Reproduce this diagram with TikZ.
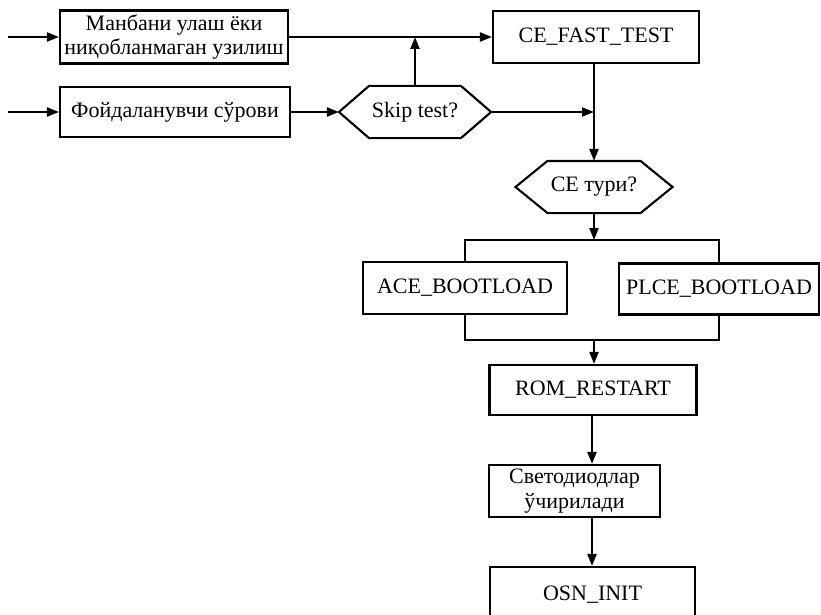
\documentclass[tikz,border=0pt]{standalone}
\usepackage{fontspec}
\setmainfont{Liberation Serif}
\usetikzlibrary{arrows.meta,calc}
\begin{document}
\begin{tikzpicture}[x=1pt,y=-1pt,
  line width=2.1pt,
  every node/.style={font=\fontsize{22}{24.5}\selectfont, inner sep=0pt, align=center},
  blk/.style={draw, rectangle},
  hexnode/.style={rectangle},
  arr/.style={-{Triangle[length=12pt,width=9pt]}}
]
\useasboundingbox (0,0) rectangle (821,615);
\clip (0,0) rectangle (821,615);

% process boxes
\node[blk, minimum width=228, minimum height=53] (src) at (174,37)
  {Манбани улаш ёки\\ниқобланмаган узилиш};
\node[blk, minimum width=230, minimum height=50] (req) at (175,112) {Фойдаланувчи сўрови};
\node[blk, minimum width=206, minimum height=52] (fast) at (596,37) {CE\_FAST\_TEST};
\node[blk, minimum width=204, minimum height=52] (ace) at (465,288) {ACE\_BOOTLOAD};
\node[blk, minimum width=200, minimum height=51] (plce) at (719,289) {PLCE\_BOOTLOAD};
\node[blk, minimum width=207, minimum height=50] (rom) at (593,390) {ROM\_RESTART};
\node[blk, minimum width=171, minimum height=52] (led) at (574.5,491)
  {Светодиодлар\\ўчирилади};
\node[blk, minimum width=205, minimum height=56] (osn) at (592.5,595) {OSN\_INIT};

% decision hexagons
\node[hexnode, minimum width=150, minimum height=50] (skip) at (415,112) {Skip test?};
\node[hexnode, minimum width=155, minimum height=50] (ce) at (594,187) {CE тури?};
\draw (skip.west) -- ($(skip.north west)+(30,0)$) -- ($(skip.north east)+(-30,0)$)
  -- (skip.east) -- ($(skip.south east)+(-30,0)$) -- ($(skip.south west)+(30,0)$) -- cycle;
\draw (ce.west) -- ($(ce.north west)+(32,0)$) -- ($(ce.north east)+(-32,0)$)
  -- (ce.east) -- ($(ce.south east)+(-32,0)$) -- ($(ce.south west)+(32,0)$) -- cycle;

% junction points
\coordinate (in1) at (8,37);
\coordinate (in2) at (8,112);
\coordinate (jtop) at (skip.north |- src.east);
\coordinate (jmid) at (594,112);
\coordinate (splitL) at (ace.north |- 0,240);
\coordinate (splitR) at (plce.north |- 0,240);
\coordinate (splitC) at (594,240);
\coordinate (joinL) at (ace.south |- 0,340);
\coordinate (joinR) at (plce.south |- 0,340);
\coordinate (joinC) at (594,340);

% connectors
\draw[arr] (in1) -- (src.west);
\draw[arr] (in2) -- (req.west);
\draw[arr] (src.east) -- (fast.west |- src.east);
\draw[arr] (req.east) -- (skip.west);
\draw[arr] (skip.north) -- (jtop);
\draw[arr] (skip.east) -- (jmid);
\draw[arr] (fast.south -| ce.north) -- (ce.north);
\draw[arr] (ce.south) -- (splitC);
\draw (ace.north) -- (splitL) -- (splitR) -- (plce.north);
\draw (ace.south) -- (joinL) -- (joinR) -- (plce.south);
\draw[arr] (joinC) -- (joinC |- rom.north);
\draw[arr] (592,0 |- rom.south) -- (592,0 |- led.north);
\draw[arr] (592,0 |- led.south) -- (592,0 |- osn.north);
\end{tikzpicture}
\end{document}
